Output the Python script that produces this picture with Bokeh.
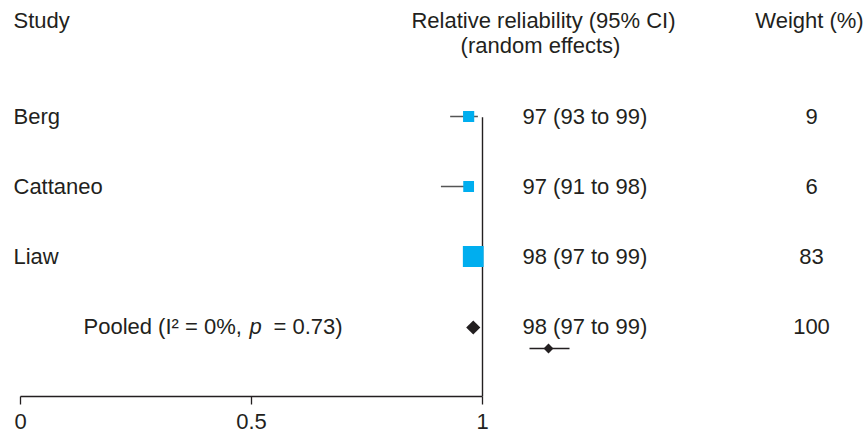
import math
from bokeh.plotting import figure
from bokeh.models import ColumnDataSource, Range1d, LinearAxis, FixedTicker
from bokeh.core.properties import value
from bokeh.embed import file_html
from bokeh.resources import INLINE

# ---- data ----
studies = ["Berg", "Cattaneo", "Liaw"]
est = [0.97, 0.97, 0.98]
lo = [0.93, 0.91, 0.97]
hi = [0.99, 0.98, 0.99]
weights = [9, 6, 83]
ci_labels = ["97 (93 to 99)", "97 (91 to 98)", "98 (97 to 99)"]
pooled_est = 0.98
pooled_lo = 0.97
pooled_hi = 0.99
pooled_weight = 100
pooled_ci_label = "98 (97 to 99)"
tick_values = [0, 0.5, 1]
tick_labels = ["0", "0.5", "1"]

FONT = value("Liberation Sans")
FS = "22px"
TXT = "#231f20"
CYAN = "#00aeef"

rows = [-i for i in range(len(studies))]
pooled_row = -len(studies)

# pixel helpers for placing text columns (x px -> data, y px -> data)
def px(xp):
    return (xp - 20) / 462

def py(yp):
    return -(yp - 116) / 70

p = figure(width=866, height=436, output_backend="svg", toolbar_location=None,
           x_range=Range1d(px(0), px(866)), y_range=Range1d(-4.0, py(0)),
           min_border_left=0, min_border_right=0, min_border_top=0, min_border_bottom=40,
           x_axis_location=None, y_axis_location=None)
p.outline_line_color = None
p.xgrid.visible = False
p.ygrid.visible = False
p.background_fill_color = "white"

ax = LinearAxis(ticker=FixedTicker(ticks=tick_values), bounds=(0, 1))
ax.major_label_overrides = {v: l for v, l in zip(tick_values, tick_labels)}
ax.minor_tick_line_color = None
ax.major_tick_in = 0
ax.major_tick_out = 8
ax.major_tick_line_width = 1.3
ax.axis_line_width = 1.3
ax.axis_line_color = "#231f20"
ax.major_tick_line_color = "#231f20"
ax.major_label_text_font = "Liberation Sans"
ax.major_label_text_font_size = FS
ax.major_label_text_color = TXT
ax.major_label_standoff = 9
p.add_layout(ax, "below")

src = ColumnDataSource(dict(
    study=studies, est=est, lo=lo, hi=hi, y=rows,
    size=[10 + 0.13 * w for w in weights],
    ci=ci_labels, w=[str(w) for w in weights],
))

# reference line at 1
p.segment(x0=[1], y0=[-0.01], x1=[1], y1=[-4.0], line_color="#231f20", line_width=1.4)

# CI lines and squares
p.segment(x0="lo", y0="y", x1="hi", y1="y", source=src, line_color="#555555", line_width=1.4)
p.scatter(x="est", y="y", size="size", marker="square", source=src,
          fill_color=CYAN, line_color=None)

# pooled
p.segment(x0=[pooled_lo], y0=[pooled_row], x1=[pooled_hi], y1=[pooled_row],
          line_color="#231f20", line_width=1.4)
p.scatter(x=[pooled_est], y=[pooled_row - 0.015], size=10, marker="square", angle=math.pi / 4,
          fill_color="#231f20", line_color=None)

# stray small pooled marker in the text column (as in the reference)
p.segment(x0=[px(529)], y0=[py(348)], x1=[px(569)], y1=[py(348)], line_color="#231f20", line_width=1.3)
p.scatter(x=[px(548)], y=[py(348)], size=7, marker="square", angle=math.pi / 4,
          fill_color="#231f20", line_color=None)

# study labels
p.text(x=px(13), y="y", text="study", source=src, text_font=FONT, text_font_size=FS,
       text_color=TXT, text_baseline="middle", text_align="left")
p.text(x=px(522), y="y", text="ci", source=src, text_font=FONT, text_font_size=FS,
       text_color=TXT, text_baseline="middle", text_align="left")
p.text(x=px(811), y="y", text="w", source=src, text_font=FONT, text_font_size=FS,
       text_color=TXT, text_baseline="middle", text_align="center")

# pooled texts
p.text(x=[px(83)], y=[pooled_row], text=["Pooled (I\u00b2 = 0%,"], text_font=FONT,
       text_font_size=FS, text_color=TXT, text_baseline="middle", text_align="left")
p.text(x=[px(249)], y=[pooled_row], text=["p"], text_font=FONT, text_font_style="italic",
       text_font_size=FS, text_color=TXT, text_baseline="middle", text_align="left")
p.text(x=[px(273)], y=[pooled_row], text=["= 0.73)"], text_font=FONT,
       text_font_size=FS, text_color=TXT, text_baseline="middle", text_align="left")
p.text(x=[px(522)], y=[pooled_row], text=[pooled_ci_label], text_font=FONT, text_font_size=FS,
       text_color=TXT, text_baseline="middle", text_align="left")
p.text(x=[px(811)], y=[pooled_row], text=[str(pooled_weight)], text_font=FONT, text_font_size=FS,
       text_color=TXT, text_baseline="middle", text_align="center")

# headers
p.text(x=[px(13)], y=[py(20)], text=["Study"], text_font=FONT, text_font_size=FS,
       text_color=TXT, text_baseline="middle", text_align="left")
p.text(x=[px(543)], y=[py(20)], text=["Relative reliability (95% CI)"], text_font=FONT,
       text_font_size=FS, text_color=TXT, text_baseline="middle", text_align="center")
p.text(x=[px(540)], y=[py(45)], text=["(random effects)"], text_font=FONT,
       text_font_size=FS, text_color=TXT, text_baseline="middle", text_align="center")
p.text(x=[px(809)], y=[py(20)], text=["Weight (%)"], text_font=FONT,
       text_font_size=FS, text_color=TXT, text_baseline="middle", text_align="center")

open("out.html", "w").write(file_html(p, INLINE))
